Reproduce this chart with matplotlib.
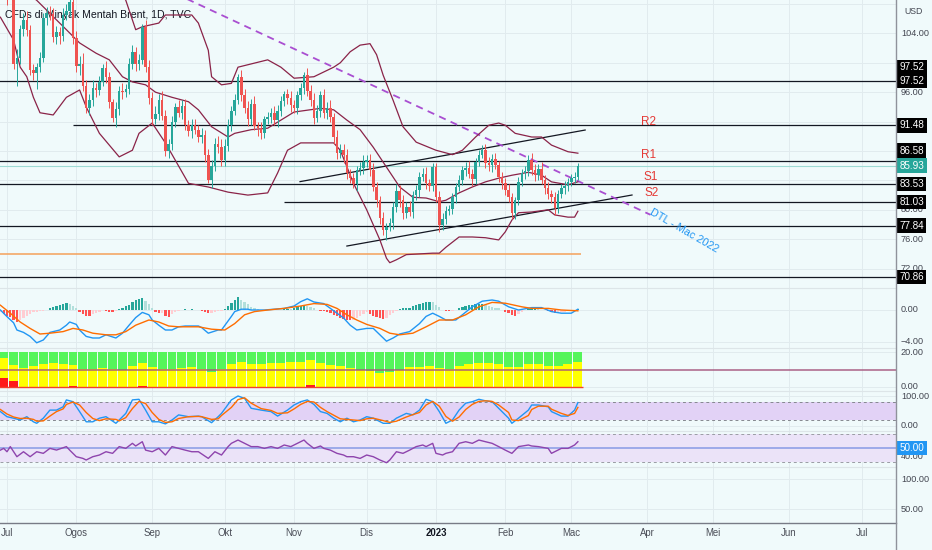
import numpy as np
import matplotlib
matplotlib.use("Agg")
import matplotlib.pyplot as plt
from matplotlib import font_manager
from matplotlib.lines import Line2D

# ---------------- data (bar index 0 = 1 Jul 2022, trading days) ----------------
pre_close = [116.3, 114.8]
jul_close = [111.6, 113.5, 99.8, 100.7, 104.6, 105.8, 104.4, 99.0, 98.6, 99.4, 100.6,
             106.1, 106.8, 106.6, 103.5, 104.2, 103.6, 106.5, 107.0, 108.2, 103.4]
aug_close = [99.6, 99.9, 96.9, 93.8, 94.9, 96.6, 96.3, 97.4, 99.3, 98.0, 94.6, 92.5,
             93.7, 96.2, 96.0, 96.5, 99.8, 101.5, 99.8, 100.4, 104.9, 99.4, 95.2]
sep_close = [92.4, 93.0, 94.9, 92.8, 88.0, 89.0, 92.0, 94.0, 93.2, 94.1, 91.6, 90.7,
             91.6, 90.9, 89.9, 90.2, 87.4, 84.1, 86.0, 89.0, 88.5, 86.8]
oct_close = [88.7, 91.6, 93.5, 94.9, 98.1, 95.6, 93.8, 92.3, 94.4, 91.4, 91.1, 90.4,
             92.3, 92.6, 93.2, 92.2, 93.4, 94.8, 95.7, 95.2, 94.2]
nov_close = [93.9, 95.6, 96.6, 98.3, 96.2, 95.0, 92.5, 93.5, 95.6, 93.2, 93.9, 92.6,
             89.9, 87.7, 88.2, 87.4, 85.0, 84.3, 83.5, 85.4, 85.7, 86.5]
dec_close = [86.8, 85.4, 83.1, 81.3, 78.9, 77.25, 77.7, 78.2, 80.4, 82.6, 81.3, 79.6,
             80.4, 79.7, 82.0, 82.7, 84.5, 84.9, 83.6, 83.2, 85.8]
jan_close = [81.8, 77.9, 78.8, 79.9, 80.1, 81.7, 83.1, 84.1, 85.4, 85.7, 84.9, 84.2,
             86.5, 87.5, 88.1, 86.4, 86.1, 86.9, 86.1, 84.5, 83.6]
feb_close = [82.7, 81.7, 79.6, 81.3, 83.8, 85.0, 85.3, 86.8, 85.4, 84.7, 85.6, 84.1,
             83.0, 82.1, 81.7, 80.2, 82.2, 82.9, 83.2, 83.8]
mar_close = [84.3, 84.5, 85.93]
first_open = 115.5

wick_up = [1.0, 1.2,
           0.8, 1.5, 0.6, 1.2, 0.5, 1.0, 1.3, 0.8, 0.9, 0.6, 0.9, 0.7, 0.8, 0.9, 0.9, 0.8, 0.7, 0.9, 1.0, 2.0, 0.8,
           0.9, 1.0, 1.4, 0.8, 0.9, 1.1, 0.7, 0.8, 0.6, 0.9, 0.8, 0.5, 0.9, 0.7, 1.0, 0.6, 0.8, 0.9, 0.7, 0.8, 0.4, 0.9, 1.0,
           0.8, 1.1, 0.9, 1.2, 0.8, 0.6, 0.7, 0.5, 0.9, 0.8, 1.0, 0.6, 0.8, 0.7, 0.6, 0.9, 0.7, 0.9, 0.8, 0.7, 1.0, 1.1,
           0.9, 0.7, 0.6, 0.8, 0.4, 0.9, 0.8, 1.0, 0.7, 1.1, 0.6, 0.8, 0.5, 0.7, 0.6, 0.9, 0.8, 0.7, 0.5, 0.8, 0.9,
           0.8, 0.6, 0.7, 0.5, 1.0, 0.8, 0.9, 0.7, 0.5, 0.9, 0.8, 1.0, 0.6, 0.9, 0.7, 0.8, 0.9, 0.6, 0.7, 0.6, 0.8, 0.9,
           0.7, 0.8, 0.9, 0.7, 0.6, 0.8, 0.5, 0.7, 0.6, 0.9, 0.8, 0.7, 0.6, 0.8, 0.5, 0.7, 0.6, 0.8, 0.9, 0.6, 0.5,
           0.6, 0.8, 0.7, 0.6, 0.5, 0.6, 0.5, 0.7, 0.6, 0.8, 0.9, 0.6, 0.5, 0.6, 0.7, 0.9, 0.8, 0.7, 0.8, 0.6, 0.7,
           0.7, 0.8, 0.6, 0.5, 0.6, 0.5, 0.7, 0.6, 0.9, 0.8, 0.6, 0.9, 0.7, 0.8, 0.6, 0.7, 0.5, 0.6, 0.7, 0.5,
           0.6, 0.7, 0.4]
wick_dn = [1.5, 1.3,
           3.8, 2.5, 0.7, 3.0, 0.8, 0.9, 0.8, 0.7, 1.0, 2.2, 0.6, 0.5, 0.9, 0.8, 0.7, 0.9, 1.0, 0.6, 0.7, 0.6, 0.9,
           0.8, 1.2, 0.7, 0.6, 0.9, 0.8, 0.9, 0.7, 0.6, 0.8, 0.7, 0.6, 1.3, 0.8, 0.9, 0.7, 0.8, 0.7, 0.9, 0.8, 0.6, 0.7, 0.8,
           0.9, 0.7, 0.8, 0.6, 0.7, 1.0, 0.8, 0.7, 0.6, 0.9, 0.8, 0.7, 0.9, 0.6, 0.7, 0.8, 0.9, 0.5, 1.2, 0.7, 0.8, 0.9,
           0.8, 0.7, 0.9, 0.6, 0.5, 0.8, 0.7, 0.9, 0.8, 0.6, 1.0, 0.8, 0.7, 0.6, 0.8, 0.7, 0.9, 0.6, 0.7, 0.8, 0.9,
           0.7, 0.9, 0.6, 0.8, 0.7, 0.9, 0.8, 0.6, 0.9, 0.7, 0.8, 0.6, 0.9, 0.8, 0.7, 1.0, 0.8, 0.7, 0.6, 0.9, 0.7, 0.8,
           0.7, 0.8, 0.6, 0.9, 0.8, 0.7, 1.4, 0.6, 0.8, 0.7, 0.9, 0.8, 0.7, 0.6, 0.8, 0.7, 0.9, 0.6, 0.8, 0.7, 0.6,
           0.8, 0.9, 0.7, 0.8, 0.6, 0.7, 0.8, 0.6, 0.7, 0.8, 0.6, 0.9, 0.7, 0.6, 0.5, 0.7, 0.8, 0.9, 0.6, 0.7, 0.8,
           0.7, 0.6, 0.9, 0.8, 0.7, 0.6, 0.8, 0.7, 0.6, 0.8, 0.7, 0.6, 0.9, 0.7, 0.8, 0.9, 0.7, 0.6, 0.8, 0.7,
           0.6, 0.7, 0.5]

# Bollinger bands (bar index, price)
bb_up_x = [30, 34, 36, 39, 41, 46, 48, 56, 58, 61, 62, 65, 68, 70, 79, 83, 87, 93, 99, 101,
           104, 107, 110, 112, 114, 117, 120, 124, 130, 135, 138, 142, 146, 149, 151, 154, 159, 162, 165, 170, 173]
bb_up = [112.0, 110.0, 108.5, 104.5, 104.9, 105.4, 106.5, 106.5, 105.4, 101.7, 98.1, 97.0, 97.2, 99.4, 100.4,
         99.4, 97.9, 98.1, 99.4, 100.0, 101.5, 102.4, 102.6, 101.1, 98.3, 94.9, 91.3, 89.2, 88.1, 87.5, 88.1,
         89.9, 91.5, 91.8, 91.5, 90.4, 89.9, 89.9, 88.8, 87.9, 87.7]
bb_mid_x = [3, 9, 18, 22, 27, 31, 35, 38, 42, 45, 50, 55, 58, 62, 67, 69, 74, 79, 83, 87, 95,
            99, 103, 107, 111, 115, 119, 123, 127, 131, 133, 137, 141, 145, 149, 153, 158, 162, 165, 170, 173]
bb_mid = [110.5, 108.5, 104.5, 102.7, 101.3, 100.4, 98.1, 97.4, 97.0, 96.0, 95.3, 94.7, 93.6, 91.3, 89.9,
          90.4, 90.9, 91.1, 92.2, 93.3, 93.8, 93.6, 92.2, 90.9, 88.5, 85.8, 83.1, 81.7, 81.6, 81.1, 81.3,
          82.3, 83.1, 83.8, 84.3, 84.7, 85.1, 84.7, 83.8, 83.4, 83.8]
bb_lo_x = [-2, 2, 4, 6, 8, 10, 14, 18, 22, 24, 28, 34, 38, 40, 44, 48, 55, 61, 67, 73, 79, 82, 85, 89, 95,
           99, 101, 105, 109, 113, 115, 116, 118, 121, 125, 129, 131, 133, 137, 141, 145, 149, 151, 153, 155,
           159, 164, 166, 170, 172, 173]
bb_lo = [106.2, 103.1, 99.4, 98.1, 95.3, 93.2, 92.9, 95.3, 96.3, 94.0, 90.4, 87.2, 88.1, 90.4, 91.8, 89.1,
         83.6, 83.1, 82.4, 82.0, 82.3, 85.0, 88.1, 89.1, 89.1, 89.1, 88.1, 83.6, 80.0, 75.9, 73.4, 72.8, 73.2,
         73.9, 74.0, 74.1, 74.1, 74.9, 76.3, 76.3, 76.2, 75.9, 77.0, 78.6, 79.6, 79.7, 80.0, 79.3, 79.0, 79.0, 79.8]

# drawings
levels = [97.52, 91.48, 86.58, 83.53, 81.03, 77.84, 70.86]
level_start = [-3, 20, -3, -3, 84, -3, -3]
last_price = 85.93
orange_level = 74.0
chan_up_x, chan_up_y = [88.8, 175.2], [83.83, 90.85]
chan_lo_x, chan_lo_y = [103.0, 189.4], [75.07, 82.01]
dtl_x, dtl_y = [50.0, 195.0], [109.63, 79.32]
sr_names = ['R2', 'R1', 'S1', 'S2']
sr_levels = [91.48, 86.58, 83.53, 81.03]

# MACD
macd_x = [-2, 0, 2, 3, 5, 7, 9, 11, 13, 16, 18, 19, 21, 22, 24, 26, 28, 30, 33, 35, 37, 39, 41, 43, 44, 46,
          48, 50, 52, 54, 58, 59, 61, 64, 65, 68, 69, 71, 73, 74, 78, 81, 84, 87, 89, 91, 93, 96, 98, 100, 102,
          104, 106, 109, 111, 113, 115, 117, 119, 122, 125, 127, 129, 131, 133, 136, 138, 141, 144, 147, 149,
          152, 155, 159, 162, 165, 168, 171, 173]
macd_v = [0.0, -0.83, -1.6, -2.5, -2.8, -3.3, -4.1, -3.75, -2.8, -2.5, -1.9, -1.5, -1.8, -2.5, -3.3, -3.5,
          -3.5, -3.1, -3.5, -2.9, -1.9, -0.95, -0.3, -0.6, -1.25, -1.9, -2.5, -2.5, -2.1, -2.0, -2.0, -2.2,
          -2.9, -2.5, -2.5, -0.8, -0.2, 0.1, 0.1, 0.0, 0.0, 0.1, 0.2, 0.5, 1.04, 1.4, 1.0, 0.8, 0.2, -0.4, -1.0,
          -1.9, -2.5, -2.3, -2.3, -3.1, -3.9, -3.5, -3.0, -2.7, -1.7, -0.8, -0.4, -0.8, -1.25, -1.25, -0.6, 0.4,
          1.1, 1.25, 1.1, 0.4, 0.0, 0.3, 0.3, -0.2, -0.4, -0.4, 0.1]
signal_x = [-2, 1, 4, 7, 10, 13, 17, 20, 23, 26, 30, 33, 36, 39, 43, 46, 49, 52, 58, 62, 66, 69, 72, 75,
            79, 84, 89, 93, 97, 100, 103, 106, 109, 113, 116, 119, 123, 127, 131, 135, 139, 143, 147, 151,
            156, 159, 164, 168, 173]
signal_v = [0.6, -0.4, -1.5, -2.3, -3.0, -2.9, -2.7, -2.3, -2.5, -2.9, -3.1, -3.1, -2.7, -1.9, -1.25, -1.5,
            -2.0, -2.1, -2.1, -2.4, -2.5, -1.7, -0.6, -0.2, 0.0, 0.2, 0.5, 0.8, 0.7, 0.2, -0.6, -1.25, -1.8,
            -2.3, -2.9, -3.1, -2.9, -2.1, -1.25, -1.25, -0.6, 0.4, 0.95, 0.85, 0.4, 0.2, 0.2, 0.0, -0.1]
hist_v = [-0.3, -0.5,
          -0.7, -0.9, -1.3, -1.5, -1.2, -1.0, -0.8, -0.5, -0.3, -0.2, -0.15, -0.1, -0.05, 0.3, 0.4, 0.5, 0.6, 0.75, 0.9, 0.75, 0.5,
          0.3, -0.2, -0.5, -0.7, -0.8, -0.5, -0.35, -0.2, -0.05, -0.15, -0.2, -0.25, -0.15, 0.1, 0.3, 0.45, 0.6, 1.0, 1.2, 1.4, 1.5, 1.1, 0.7,
          0.2, -0.2, -0.4, -0.4, -0.8, -0.9, -0.5, -0.3, -0.1, 0.05, 0.1, 0.05, 0.1, 0.05, -0.05, -0.1, -0.3, -0.4, -0.35, -0.2, -0.15, -0.1,
          0.1, 0.5, 0.9, 1.3, 1.6, 1.3, 1.0, 0.7, 0.4, 0.2, 0.1, 0.05, 0.0, -0.05, 0.05, 0.05, 0.0, 0.05, 0.1, 0.15, 0.1,
          0.2, 0.35, 0.5, 0.6, 0.55, 0.35, 0.2, -0.05, -0.1, -0.15, -0.25, -0.35, -0.6, -0.8, -1.0, -1.1, -1.2, -1.3, -1.2, -1.0, -0.7, -0.45,
          -0.3, -0.45, -0.7, -0.9, -1.05, -1.1, -1.0, -0.6, -0.35, -0.1, 0.1, 0.2, 0.25, 0.3, 0.45, 0.6, 0.7, 0.85, 0.95, 1.0, 0.95,
          0.6, 0.35, 0.05, -0.1, -0.15, -0.1, 0.05, 0.3, 0.4, 0.5, 0.6, 0.65, 0.7, 0.75, 0.8, 0.6, 0.45, 0.35, 0.3, 0.2, 0.05,
          -0.2, -0.4, -0.6, -0.7, -0.5, -0.25, -0.05, 0.1, 0.15, 0.15, 0.1, 0.05, -0.05, -0.15, -0.25, -0.35, -0.3, -0.3, -0.2, -0.1,
          -0.05, 0.05, 0.15]

# stacked column indicator (one value per 3-bar column)
col_yellow = [16.4, 12.8, 11.0, 12.0, 13.2, 13.8, 13.0, 12.6, 10.4, 10.2,
              10.7, 10.3, 9.8, 12.0, 13.8, 11.2, 10.2, 10.1, 10.8, 11.3,
              10.3, 8.4, 10.2, 13.0, 14.5, 13.4, 13.0, 13.5, 14.0, 14.5,
              14.5, 15.2, 14.0, 12.8, 11.8, 10.9, 10.0, 9.0, 8.0, 8.3,
              10.0, 11.2, 11.6, 11.8, 10.6, 10.5, 11.8, 13.0, 14.0, 14.0,
              13.0, 11.6, 11.5, 13.0, 13.0, 12.2, 12.0, 13.0, 14.2]
col_red = [5.0, 3.2, 0, 0, 0, 0, 0, 0.6, 0, 0,
           0, 0, 0, 0, 0.5, 0, 0, 0, 0, 0,
           0, 0, 0, 0, 0, 0, 0, 0, 0, 0,
           0, 1.0, 0, 0, 0, 0, 0, 0, 0, 0,
           0, 0, 0, 0, 0, 0, 0, 0, 0, 0,
           0, 0, 0, 0, 0, 0, 0, 0, 0]

# stochastic
stoch_x = [-2, 0, 2, 4, 6, 8, 9, 11, 13, 15, 17, 18, 20, 22, 24, 26, 28, 30, 33, 34,
           36, 38, 40, 42, 44, 46, 48, 50, 52, 55, 58, 59, 62, 64, 65, 68, 70, 72, 74, 77,
           80, 82, 85, 87, 89, 91, 93, 95, 97, 99, 101, 103, 105, 107, 109, 111, 114, 116, 118, 121,
           123, 125, 127, 129, 131, 133, 135, 137, 139, 141, 143, 145, 147, 149, 152, 153, 155, 158, 159, 161,
           164, 165, 168, 170, 172, 173]
stoch_k = [48, 31, 26, 20, 31, 14, 9, 26, 53, 53, 64, 87, 81, 48, 14, 14, 26, 31, 9, 20,
           42, 87, 89, 53, 14, 14, 7, 20, 37, 31, 33, 31, 11, 31, 42, 87, 100, 92, 59, 53,
           48, 33, 53, 70, 81, 87, 72, 48, 42, 26, 14, 26, 14, 20, 31, 26, 9, 9, 26, 42,
           37, 53, 89, 81, 48, 9, 20, 53, 76, 81, 89, 84, 81, 59, 26, 9, 26, 53, 70, 70,
           64, 48, 33, 33, 53, 78]
stoch_d = [55, 40, 30, 25, 26, 22, 16, 17, 33, 48, 57, 72, 80, 70, 45, 25, 18, 24, 22, 17,
           28, 58, 82, 75, 45, 22, 12, 14, 25, 31, 32, 31, 22, 24, 35, 62, 88, 94, 76, 58,
           52, 42, 44, 57, 72, 82, 80, 62, 48, 36, 24, 22, 20, 18, 24, 26, 18, 12, 16, 30,
           38, 45, 70, 82, 66, 32, 16, 30, 55, 72, 82, 84, 82, 70, 45, 20, 18, 35, 55, 66,
           66, 56, 42, 35, 42, 62]

# RSI
rsi_x = [-2, -1, 0, 1, 3, 5, 7, 9, 11, 13, 15, 18, 19, 21, 23, 24, 26, 28, 30, 32,
         34, 36, 38, 39, 41, 42, 44, 46, 48, 50, 52, 54, 56, 58, 61, 63, 65, 67, 68, 70,
         72, 74, 76, 78, 80, 82, 84, 86, 88, 90, 91, 93, 95,
         96, 98, 100, 102, 103, 105, 107, 109, 111, 113, 115, 116, 118, 120, 122, 124, 126, 127, 129, 130,
         132, 133, 135, 137, 139, 141, 143, 145, 147, 149, 151, 153, 155, 158, 159, 161, 164, 165, 168, 170,
         172, 173]
rsi_v = [47, 49.5, 44.7, 52, 37.6, 44.7, 37.6, 44.7, 42.4, 49.5, 47.1, 52, 47, 37.6, 35.2, 32.9, 37.6, 40, 44.7, 42.4,
         52, 49.5, 56.7, 52.9, 59, 47, 44.7, 49.5, 40, 52, 49.5, 47, 44.7, 44.7, 35.2, 44.7, 40, 52, 56.7, 61.4,
         56.7, 52, 52, 49.5, 52, 49.5, 54.3, 52, 56.7, 61.4, 56.7, 49.5, 52.9,
         49.5, 47, 42.4, 40, 37.6, 37.6, 35.2, 40, 37.6, 32.9, 29, 32.9, 44.7, 42.4, 47, 52, 54.3, 52, 56.7, 42.4,
         40, 42.4, 44.7, 56.7, 59, 56.7, 61.4, 59, 56.7, 52, 47, 42.4, 52, 54.3, 52.9, 52, 49.5, 42.4, 49.5, 49.5,
         54.3, 59]

month_pos = [0, 21, 44, 66, 87, 109, 130, 151, 171, 194, 214, 237, 259]
month_lab = ['Jul', 'Ogos', 'Sep', 'Okt', 'Nov', 'Dis', '2023', 'Feb', 'Mac', 'Apr', 'Mei', 'Jun', 'Jul']

# ---------------- style ----------------
BG = '#f0fafb'
GREEN = '#26a69a'
RED = '#ef5350'
GRID = '#e1ebee'
TXT = '#434651'
BAND = '#8a2348'

names = {f.name for f in font_manager.fontManager.ttflist}
if 'Liberation Sans Narrow' in names:
    FONT, LBL, BOX, TITLE = 'Liberation Sans Narrow', 8.0, 8.2, 8.5
else:
    FONT, LBL, BOX, TITLE = 'Liberation Sans', 6.6, 7.1, 7.6
plt.rcParams['font.family'] = [FONT, 'DejaVu Sans']

W, H = 932, 550
AXW = 896
XMIN, XMAX = -2.12, 269.4

fig = plt.figure(figsize=(W / 100, H / 100), dpi=100, facecolor=BG)


def pane(top, bottom, ylim, grid_y=()):
    ax = fig.add_axes([0, 1 - bottom / H, AXW / W, (bottom - top) / H])
    ax.set_facecolor(BG)
    ax.set_xlim(XMIN, XMAX)
    ax.set_ylim(*ylim)
    for s in ax.spines.values():
        s.set_visible(False)
    ax.spines['top'].set_visible(True)
    ax.spines['top'].set_color('#dde5e8')
    ax.spines['top'].set_linewidth(0.8)
    ax.set_xticks([])
    ax.set_yticks([])
    for m in month_pos:
        ax.axvline(m, color=GRID, lw=0.7, zorder=0)
    for g in grid_y:
        ax.axhline(g, color=GRID, lw=0.7, zorder=0)
    return ax


def rtick(ax, y, s):
    ax.text(1.0055, y, s, transform=ax.get_yaxis_transform(), fontsize=LBL, color=TXT,
            va='center', ha='left', clip_on=False, zorder=5)


def rbox(ax, y, s, bg='#000000'):
    ax.text(1.004, y, s, transform=ax.get_yaxis_transform(), fontsize=BOX, color='white',
            va='center', ha='left', clip_on=False, zorder=20,
            bbox=dict(boxstyle='square,pad=0.22', fc=bg, ec='none'))


# ---------------- main price pane ----------------
price_grid = [72, 76, 80, 84, 88, 92, 96, 100, 104, 108]
price_ticks = [72, 76, 80, 96, 104]   # the others sit under the level boxes
ax = pane(0, 288, (69.36, 108.54), price_grid)
ax.spines['top'].set_visible(False)

close = np.array(pre_close + jul_close + aug_close + sep_close + oct_close +
                 nov_close + dec_close + jan_close + feb_close + mar_close)
bars = np.arange(-2, -2 + len(close))
opens = np.concatenate([[first_open], close[:-1]])
high = np.maximum(opens, close) + np.array(wick_up)
low = np.minimum(opens, close) - np.array(wick_dn)
ccol = np.where(close >= opens, GREEN, RED)
ax.vlines(bars, low, high, colors=ccol, lw=0.7, zorder=3)
ax.bar(bars, np.maximum(np.abs(close - opens), 0.1), bottom=np.minimum(opens, close),
       width=0.75, color=ccol, linewidth=0, zorder=4)

ax.plot(bb_up_x, bb_up, color=BAND, lw=0.9, zorder=2.5)
ax.plot(bb_mid_x, bb_mid, color=BAND, lw=0.9, zorder=2.5)
ax.plot(bb_lo_x, bb_lo, color=BAND, lw=0.9, zorder=2.5)

for lv, st in zip(levels, level_start):
    ax.hlines(lv, st, XMAX + 1, color='#131722', lw=0.9, zorder=2)
ax.axhline(last_price, color='#9edbd4', lw=0.8, zorder=1.5)
ax.hlines(orange_level, -3, 174, color='#f5a05a', lw=1.1, zorder=2)
ax.plot(chan_up_x, chan_up_y, color='#131722', lw=0.9, zorder=2)
ax.plot(chan_lo_x, chan_lo_y, color='#131722', lw=0.9, zorder=2)
ax.plot(dtl_x, dtl_y, color='#a94ed1', lw=1.3, ls=(0, (4, 3)), zorder=2.2)

sr_off = [0.46, 0.9, 0.93, 1.25]
sr_xpos = [194.5, 194.5, 195.2, 195.2]
for name, lv, off, xp in zip(sr_names, sr_levels, sr_off, sr_xpos):
    ax.text(xp, lv + off, name, color='#e53935', fontsize=8.5, ha='center', va='center', zorder=6)
ax.text(205.3, 77.1, 'DTL - Mac 2022', color='#2196f3', fontsize=7.8, rotation=-30,
        ha='center', va='center', rotation_mode='anchor', zorder=6)

ax.text(5 / AXW, 1 - 15 / 288, 'CFDs di Minyak Mentah Brent, 1D, TVC', transform=ax.transAxes,
        fontsize=TITLE, color='#131722', va='center', ha='left', zorder=1)

ax.text(1.009, 1 - 12 / 288, 'USD', transform=ax.transAxes, fontsize=LBL - 0.3, color=TXT,
        va='center', ha='left', clip_on=False)
for t in price_ticks:
    rtick(ax, t, f'{t:.2f}')
rbox(ax, 99.42, '97.52')
rbox(ax, 97.52, '97.52')
rbox(ax, 91.48, '91.48')
rbox(ax, 88.06, '86.58')
rbox(ax, 86.02, '85.93', bg=GREEN)
rbox(ax, 83.53, '83.53')
rbox(ax, 81.03, '81.03')
rbox(ax, 77.84, '77.84')
rbox(ax, 70.86, '70.86')

# ---------------- MACD pane ----------------
ax2 = pane(288, 348, (-4.75, 2.75), [0, -4])
hist = np.array(hist_v)
prev = np.concatenate([[hist[0]], hist[:-1]])
hcol = np.where(hist >= 0, np.where(hist >= prev, '#26a69a', '#b2dfdb'),
                np.where(hist < prev, '#ff5252', '#ffcdd2'))
ax2.bar(bars, hist, width=0.72, color=hcol, linewidth=0, zorder=2)
ax2.plot(macd_x, macd_v, color='#2196f3', lw=1.0, zorder=3)
ax2.plot(signal_x, signal_v, color='#ff6d00', lw=1.0, zorder=3)
rtick(ax2, 0, '0.00')
rtick(ax2, -4, '\u22124.00')

# ---------------- stacked column pane ----------------
ax3 = pane(348, 391, (-2.3, 22.3), [0, 20])
cx = np.arange(-1, -1 + 3 * len(col_yellow), 3)
yel = np.array(col_yellow)
red = np.array(col_red)
ax3.bar(cx, red, width=2.72, color='#ff1a1a', linewidth=0, zorder=2)
ax3.bar(cx, yel - red, bottom=red, width=2.72, color='#ffff00', linewidth=0, zorder=2)
ax3.bar(cx, 20 - yel, bottom=yel, width=2.72, color='#55f55a', linewidth=0, zorder=2)
ax3.hlines(0.15, -3, 174.5, color='#f04030', lw=1.0, zorder=3)
ax3.axhline(10, color='#a5557d', lw=1.2, alpha=0.85, zorder=3)
rtick(ax3, 20, '20.00')
rtick(ax3, 0, '0.00')

# ---------------- stochastic pane ----------------
ax4 = pane(391, 431, (-16.7, 116.7), [0, 100])
ax4.axhspan(20, 80, color='#e2d2f6', zorder=0.5, lw=0)
ax4.axhline(80, color='#85888f', lw=0.7, ls=(0, (3, 3)), zorder=1)
ax4.axhline(20, color='#85888f', lw=0.7, ls=(0, (3, 3)), zorder=1)
ax4.plot(stoch_x, stoch_k, color='#2196f3', lw=1.0, zorder=3)
ax4.plot(stoch_x, stoch_d, color='#ff6d00', lw=1.0, zorder=3)
rtick(ax4, 100, '100.00')
rtick(ax4, 0, '0.00')

# ---------------- RSI pane ----------------
ax5 = pane(431, 467, (22.9, 74.3), [40])
ax5.axhspan(30, 70, color='#ebe3f8', zorder=0.5, lw=0)
ax5.axhline(70, color='#9a9ca4', lw=0.7, ls=(0, (3, 3)), zorder=1)
ax5.axhline(30, color='#9a9ca4', lw=0.7, ls=(0, (3, 3)), zorder=1)
ax5.axhline(50, color='#8fa0e6', lw=1.2, zorder=1.5)
ax5.plot(rsi_x, rsi_v, color='#8e44ad', lw=1.0, zorder=3)
rtick(ax5, 38.5, '40.00')
rbox(ax5, 50, '50.00', bg='#2196f3')

# ---------------- empty bottom pane + time axis ----------------
ax6 = pane(467, 523, (26.7, 120), [100, 50])
rtick(ax6, 100, '100.00')
rtick(ax6, 50, '50.00')
ax6.spines['bottom'].set_visible(True)
ax6.spines['bottom'].set_color('#787b86')
ax6.spines['bottom'].set_linewidth(1.0)
ax6.set_xticks(month_pos)
ax6.set_xticklabels(month_lab)
ax6.tick_params(axis='x', length=0, pad=3.5, labelsize=LBL + 0.3, labelcolor='#4a4d57')
ax6.get_xticklabels()[6].set_fontweight('bold')
ax6.get_xticklabels()[6].set_color('#131722')

fig.add_artist(Line2D([AXW / W, AXW / W], [0, 1], transform=fig.transFigure,
                      color='#8f929b', lw=1.0))

fig.savefig('out.png', dpi=100, facecolor=BG)
